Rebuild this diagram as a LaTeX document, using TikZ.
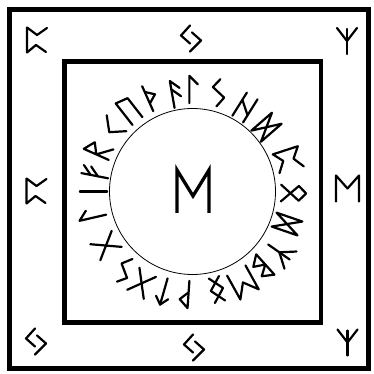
\documentclass[tikz,border=0pt]{standalone}
\usepackage{tikz}

\tikzset{
  runestroke/.style={line width=2.2pt, line cap=round, line join=round},
  r-isa/.pic={\draw[runestroke] (0,-13) -- (0,13);},
  r-laguz/.pic={\draw[runestroke] (-3,-13) -- (-3,13) -- (5,5);},
  r-fehu/.pic={\draw[runestroke] (-3,-13) -- (-3,13);
               \draw[runestroke] (-3,4) -- (5,12);
               \draw[runestroke] (-3,-3) -- (5,5);},
  r-ansuz/.pic={\draw[runestroke] (-3,-13) -- (-3,13) -- (5,5);
                \draw[runestroke] (-3,5) -- (5,-3);},
  r-raido/.pic={\draw[runestroke] (-5,-13) -- (-5,13) -- (5,6) -- (-5,0) -- (6,-13);},
  r-kaunan/.pic={\draw[runestroke] (5,12) -- (-6,0) -- (5,-12);},
  r-uruz/.pic={\draw[runestroke] (-6,-13) -- (-6,13) -- (6,10) -- (6,-13);},
  r-thurisaz/.pic={\draw[runestroke] (-3,-13) -- (-3,13);
                   \draw[runestroke] (-3,7) -- (5,1) -- (-3,-5);},
  r-wunjo/.pic={\draw[runestroke] (-3,-13) -- (-3,13) -- (5,5) -- (-3,-2);},
  r-sowilo/.pic={\draw[runestroke] (-2,13) -- (-7,4) -- (6,-3) -- (1,-13);},
  r-hagalaz/.pic={\draw[runestroke] (-6,-13) -- (-6,13);
                  \draw[runestroke] (6,-13) -- (6,13);
                  \draw[runestroke] (-6,5) -- (6,-5);},
  r-dagaz/.pic={\draw[runestroke] (-7,13) -- (-7,-13) -- (7,13) -- (7,-13) -- cycle;},
  r-perthro/.pic={\draw[runestroke] (10,12) -- (0,5) -- (-10,12.5) -- (-10,-12.5) -- (-1,-5) -- (9,-12);},
  r-othala/.pic={\draw[runestroke] (-7,6) -- (0,13) -- (7,6);
                 \draw[runestroke] (-7,6) -- (8,-11);
                 \draw[runestroke] (7,6) -- (-8,-11);},
  r-ing/.pic={\draw[runestroke] (-5,12) -- (6,0) -- (-5,-12);
              \draw[runestroke] (5,12) -- (-6,0) -- (5,-12);},
  r-algiz/.pic={\draw[runestroke] (0,12) -- (0,-13);
                \draw[runestroke] (-10,13) -- (0,0) -- (10,13);},
  r-berkano/.pic={\draw[runestroke] (-5,-13) -- (-5,13) -- (5,6) -- (-5,0) -- (5,-6) -- cycle;},
  r-ehwaz/.pic={\draw[runestroke] (-10,-13) -- (-10,13) -- (0,0) -- (10,13) -- (10,-13);},
  r-tiwaz/.pic={\draw[runestroke] (0,-13) -- (0,13);
                \draw[runestroke] (-6,6) -- (0,13) -- (6,6);},
  r-gebo/.pic={\draw[runestroke] (-9,-12) -- (9,12);
               \draw[runestroke] (-9,12) -- (9,-12);},
  r-jera/.pic={\draw[runestroke] (-1,13) -- (-10,3) -- (-1,-5);
               \draw[runestroke] (1,6) -- (10,-2) -- (-1,-13);},
}

\begin{document}
\begin{tikzpicture}[x=1pt, y=1pt]
\useasboundingbox (0,0) rectangle (373,374);

% frame
\draw[line width=5pt] (9,5.5) rectangle (368,364);
\draw[line width=4.5pt] (64.5,51.5) rectangle (321,312.5);
\coordinate (ring) at (192.5,182.5);
\draw[line width=0.8pt] (ring) circle[radius=83];

% middle rune
\draw[line width=3.3pt, line join=miter] (177,161) -- (177,204) -- (193,178) -- (209,204) -- (209,161);

% runes in the frame
\pic at (37,334) {r-perthro};
\pic at (191,335.5) {r-jera};
\pic at (347,333) {r-algiz};
\pic at (36.5,183) {r-perthro};
\pic[xscale=1.15] at (347.5,185.5) {r-ehwaz};
\pic at (36,32.5) {r-jera};
\pic at (194,26.5) {r-jera};
\pic at (347.5,31.5) {r-algiz};

% runes round the circle
\begin{scope}[shift={(ring)}, every pic/.style={scale=1.05}]
\pic[rotate=0]    at (90:102)   {r-laguz};
\pic[rotate=-15]  at (75:102)   {r-sowilo};
\pic[rotate=-32]  at (58:99)    {r-hagalaz};
\pic[rotate=-49]  at (41:98)    {r-dagaz};
\pic[rotate=-72]  at (18:101)   {r-perthro};
\pic[rotate=-91]  at (-1:100)   {r-othala};
\pic[rotate=-109] at (-19:100)  {r-dagaz};
\pic[rotate=-125] at (-35:106)  {r-algiz};
\pic[rotate=-138] at (-48:103)  {r-berkano};
\pic[rotate=-151] at (-61:104)  {r-ehwaz};
\pic[rotate=-166] at (-76:101)  {r-ing};
\pic[rotate=-184] at (-94:103)  {r-wunjo};
\pic[rotate=-196] at (-106:104) {r-tiwaz};
\pic[rotate=-209] at (-119:105) {r-gebo};
\pic[rotate=-221] at (-131:104) {r-sowilo};
\pic[rotate=-238] at (-148:102) {r-gebo};
\pic[rotate=-257] at (-167:103) {r-laguz};
\pic[rotate=90]   at (180:99)   {r-isa};
\pic[rotate=79]   at (169:99)   {r-fehu};
\pic[rotate=66]   at (156:103)  {r-raido};
\pic[rotate=51]   at (141:102)  {r-kaunan};
\pic[rotate=38]   at (128:103)  {r-uruz};
\pic[rotate=24]   at (114:103)  {r-thurisaz};
\pic[rotate=10]   at (100:99)   {r-ansuz};
\end{scope}

\end{tikzpicture}
\end{document}
